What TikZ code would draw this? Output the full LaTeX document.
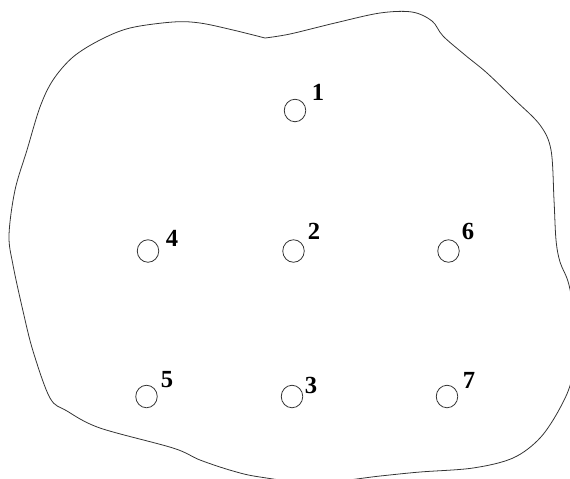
\documentclass[tikz,border=0pt]{standalone}
\usepackage{fontspec}
\setmainfont{Liberation Serif}
\usepackage{tikz}
\usetikzlibrary{positioning,shapes.geometric}
\tikzset{
  wellpt/.style={draw=black!80,ellipse,line width=0.45pt,minimum width=4.3mm,minimum height=4.5mm,inner sep=0pt},
  welltag/.style={font=\bfseries\fontsize{14}{16}\selectfont,inner sep=0pt},
  fieldline/.style={line width=0.45pt,draw=black!80},
}
\begin{document}
\begin{tikzpicture}[x=0.02cm,y=-0.02cm]
\useasboundingbox (0,0) rectangle (570,478);
\begin{scope}
\clip (0,0) rectangle (570,478);
% field boundary
\draw[fieldline] plot[smooth,tension=0.55] coordinates {(265,38) (290,34) (335,23) (380,13) (412,12) (432,21) (443,36) (465,55) (487,73) (515,100) (540,125) (551,150) (554,200) (556,240) (560,262) (569,285) (576,330) (572,378) (560,408) (540,438) (513,458) (473,468) (420,472) (380,476) (315,483) (260,477) (233,471) (200,460) (173,448) (100,428) (67,411) (50,398) (33,351) (23,311) (13,265) (9,235) (15,190) (27,150) (40,107) (53,80) (73,57) (100,40) (130,28) (173,22) (200,23) (233,30) (265,38)};
\end{scope}
% wells
\node[wellpt] (w1) at (295,110.5) {};
\node[wellpt] (w2) at (293.5,251) {};
\node[wellpt] (w3) at (292,396.5) {};
\node[wellpt] (w4) at (148,251) {};
\node[wellpt] (w5) at (146.5,396.5) {};
\node[wellpt] (w6) at (448.5,251) {};
\node[wellpt] (w7) at (447,396.5) {};
% numbers
\node[welltag] (t1) at (318,92.5) {1};
\node[welltag] (t2) at (314,231) {2};
\node[welltag] (t3) at (311,385) {3};
\node[welltag] (t4) at (172,238) {4};
\node[welltag] (t5) at (167,380) {5};
\node[welltag] (t6) at (468,231) {6};
\node[welltag] (t7) at (469,380) {7};
\end{tikzpicture}
\end{document}
